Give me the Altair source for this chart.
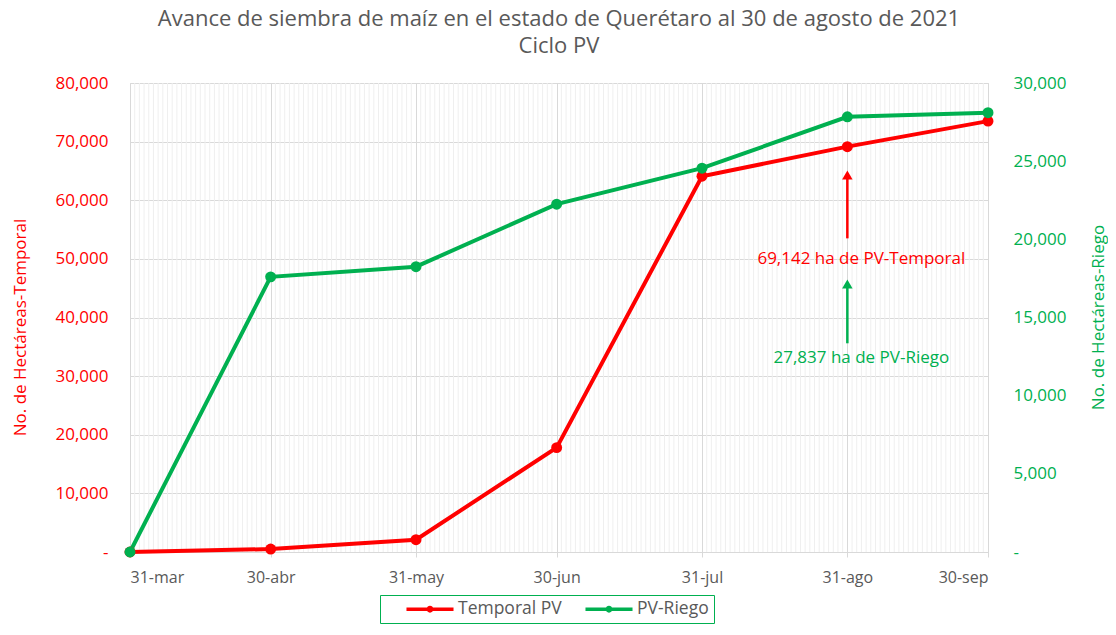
import altair as alt
import pandas as pd

# ---- data ----
fechas = ['2021-03-31', '2021-04-30', '2021-05-31', '2021-06-30',
          '2021-07-31', '2021-08-31', '2021-09-30']
temporal = [0, 500, 2100, 17800, 64100, 69142, 73500]
riego = [0, 17600, 18250, 22250, 24550, 27837, 28100]
meses = ['ene', 'feb', 'mar', 'abr', 'may', 'jun', 'jul', 'ago', 'sep', 'oct', 'nov', 'dic']
series = ['Temporal PV', 'PV-Riego']
colores = ['#ff0000', '#00b050']

ticks_izq = [0, 10000, 20000, 30000, 40000, 50000, 60000, 70000, 80000]
ticks_der = [0, 5000, 10000, 15000, 20000, 25000, 30000]

titulo = ['Avance de siembra de maíz en el estado de Querétaro al 30 de agosto de 2021', 'Ciclo PV']
titulo_izq = 'No. de Hectáreas-Temporal'
titulo_der = 'No. de Hectáreas-Riego'

anot_fecha = '2021-08-31'
anot_textos = ['69,142 ha de PV-Temporal', '27,837 ha de PV-Riego']
anot_texto_y = [50000, 33100]
flecha_y1 = [53500, 35600]
flecha_y2 = [64300, 45700]

FONT = 'Open Sans'
GRAY = '#595959'

df_t = pd.DataFrame({'fecha': fechas, 'valor': temporal, 'serie': series[0]})
df_r = pd.DataFrame({'fecha': fechas, 'valor': riego, 'serie': series[1]})

dias = [d for d in pd.date_range(fechas[0], fechas[-1], freq='D').strftime('%Y-%m-%d') if d not in fechas]
df_grid = pd.DataFrame({'fecha': dias})

df_ann = pd.DataFrame({'fecha': anot_fecha, 'texto': anot_textos, 'ty': anot_texto_y,
                       'y1': flecha_y1, 'y2': flecha_y2, 'tono': colores})

x_vals = [int(v) for v in (pd.to_datetime(fechas).astype('int64') // 10**6)]
mes_arr = '[' + ','.join("'%s'" % m for m in meses) + ']'

x_enc = alt.X('fecha:T', scale=alt.Scale(type='utc'), title=None,
              axis=alt.Axis(values=x_vals,
                            labelExpr="utcFormat(datum.value, '%d') + '-' + " + mes_arr + "[utcmonth(datum.value)]",
                            labelFont=FONT, labelFontSize=16, labelColor=GRAY, labelPadding=12,
                            grid=True, gridColor='#d9d9d9', domainColor='#d9d9d9',
                            tickColor='#d9d9d9', tickSize=5))

y_left_scale = alt.Scale(domain=[0, 80000], nice=False)
y_right_scale = alt.Scale(domain=[0, 30000], nice=False)

legend_symbol = 'M-3.36,0L3.36,0M-0.25,0a0.25,0.25 0 1,0 0.5,0a0.25,0.25 0 1,0 -0.5,0'
color_enc = alt.Color('serie:N', scale=alt.Scale(domain=series, range=colores),
                      legend=alt.Legend(title=None, orient='none', legendX=250, legendY=512,
                                        direction='horizontal', strokeColor='#00b050',
                                        padding=5, symbolOffset=36, columnPadding=2,
                                        labelFont=FONT, labelFontSize=17.5, labelFontWeight='normal',
                                        labelColor=GRAY, labelExpr="datum.label + '\u2003'",
                                        symbolType=legend_symbol, symbolSize=196,
                                        symbolStrokeWidth=3.5, labelOffset=19))

grid_minor = alt.Chart(df_grid).mark_rule(color='#efefef', strokeWidth=1).encode(x=x_enc)

red_line = alt.Chart(df_t).mark_line(strokeWidth=4).encode(
    x=x_enc,
    y=alt.Y('valor:Q', scale=y_left_scale, title=titulo_izq,
            axis=alt.Axis(values=ticks_izq,
                          labelExpr="datum.value == 0 ? '-\u00a0\u00a0\u00a0' : format(datum.value, ',')",
                          labelFont=FONT, labelFontSize=17, labelColor='#ff0000', labelPadding=22,
                          titleFont=FONT, titleFontSize=17, titleFontWeight='normal', titleColor='#ff0000',
                          titleX=-110, titleY=244, titleAngle=270, titleBaseline='middle', titleAlign='center',
                          grid=True, gridColor='#d9d9d9', ticks=False, domain=False)),
    color=color_enc)
red_pts = alt.Chart(df_t).mark_circle(size=120, opacity=1).encode(
    x=x_enc, y=alt.Y('valor:Q', scale=y_left_scale, axis=None), color=color_enc)

green_line = alt.Chart(df_r).mark_line(strokeWidth=4).encode(
    x=x_enc,
    y=alt.Y('valor:Q', scale=y_right_scale, title=titulo_der,
            axis=alt.Axis(orient='right', values=ticks_der,
                          labelExpr="datum.value == 0 ? '-' : format(datum.value, ',')",
                          labelFont=FONT, labelFontSize=17, labelColor='#00b050', labelPadding=25,
                          titleFont=FONT, titleFontSize=17, titleFontWeight='normal', titleColor='#00b050',
                          titleX=110, titleY=234, titleAngle=270, titleBaseline='middle', titleAlign='center',
                          grid=False, ticks=False, domain=False)),
    color=color_enc)
green_pts = alt.Chart(df_r).mark_circle(size=120, opacity=1).encode(
    x=x_enc, y=alt.Y('valor:Q', scale=y_right_scale, axis=None), color=color_enc)

arrows = alt.Chart(df_ann).mark_rule(strokeWidth=2.5).encode(
    x=x_enc, y=alt.Y('y1:Q', scale=y_left_scale, axis=None), y2='y2:Q',
    stroke=alt.Stroke('tono:N', scale=None))
heads = alt.Chart(df_ann).mark_point(shape='triangle-up', filled=True, size=110, opacity=1,
                                     strokeWidth=0).encode(
    x=x_enc, y=alt.Y('y2:Q', scale=y_left_scale, axis=None),
    fill=alt.Fill('tono:N', scale=None))
texts = alt.Chart(df_ann).mark_text(font=FONT, fontSize=17, dx=14, baseline='middle').encode(
    x=x_enc, y=alt.Y('ty:Q', scale=y_left_scale, axis=None), text='texto:N',
    fill=alt.Fill('tono:N', scale=None))

chart = alt.layer(grid_minor, red_line, green_line, red_pts, green_pts, arrows, heads, texts).resolve_scale(
    y='independent'
).properties(
    width=858, height=469,
    autosize=alt.AutoSizeParams(type='none'),
    padding={'left': 122, 'top': 75, 'right': 120, 'bottom': 75},
    title=alt.TitleParams(text=titulo, font=FONT, fontSize=22, fontWeight='normal', color=GRAY,
                          anchor='middle', offset=16, lineHeight=27)
).configure_view(stroke=None).configure_legend(strokeWidth=1.5).configure(background='white')

chart.save('out.html', embed_options={'renderer': 'svg', 'actions': False})
